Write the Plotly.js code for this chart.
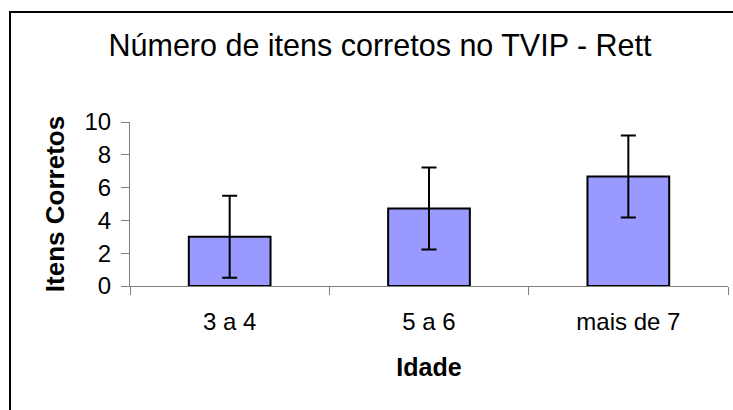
<!DOCTYPE html>
<html>
<head>
<meta charset="utf-8">
<script src="https://cdn.plot.ly/plotly-3.0.1.min.js"></script>
<style>
  html, body { margin: 0; padding: 0; background: #fff; }
  #chart { width: 733px; height: 410px; }
</style>
</head>
<body>
<div id="chart"></div>
<script>
// Data
const categories = ['3 a 4', '5 a 6', 'mais de 7'];
const means = [3.0, 4.72, 6.67];
const errors = [2.5, 2.5, 2.5];
const yTickValues = [0, 2, 4, 6, 8, 10];

const FONT = 'Liberation Sans, Arial, sans-serif';

// plot area: x 130..728, y 122..286 (px)
const L = 130, R = 5, T = 122, B = 124, W = 733, H = 410;
const pw = W - L - R, ph = H - T - B;
const px = (v) => (v - L) / pw;
const py = (v) => (H - B - v) / ph;

const trace = {
  type: 'bar',
  x: categories,
  y: means,
  marker: { color: '#9999FF', line: { color: '#000000', width: 2 } },
  error_y: { type: 'data', array: errors, visible: true, color: '#000000', thickness: 2, width: 7.5 },
  hoverinfo: 'x+y'
};

const layout = {
  width: W, height: H,
  margin: { l: L, r: R, t: T, b: B, pad: 0 },
  paper_bgcolor: '#ffffff',
  plot_bgcolor: '#ffffff',
  showlegend: false,
  bargap: 0.59,
  font: { family: FONT, color: '#000000' },
  title: {
    text: 'Número de itens corretos no TVIP - Rett',
    font: { family: FONT, size: 30.5, color: '#000000' },
    xref: 'container', x: 380 / W, xanchor: 'center',
    yref: 'container', y: 1 - 45.5 / H, yanchor: 'middle'
  },
  xaxis: {
    type: 'category',
    tickson: 'boundaries',
    ticks: 'outside', ticklen: 8, tickwidth: 1, tickcolor: '#808080',
    showline: true, linecolor: '#808080', linewidth: 1,
    showgrid: false, zeroline: false,
    tickfont: { family: FONT, size: 24, color: '#000000' },
    ticklabelstandoff: 14,
    title: { text: '<b>Idade</b>', font: { family: FONT, size: 25, color: '#000000' }, standoff: 24 },
    fixedrange: true
  },
  yaxis: {
    range: [0, 10],
    tickvals: yTickValues,
    ticktext: yTickValues.map(String),
    ticks: 'outside', ticklen: 8, tickwidth: 1, tickcolor: '#808080',
    showline: true, linecolor: '#808080', linewidth: 1,
    showgrid: false, zeroline: false,
    tickfont: { family: FONT, size: 24, color: '#000000' },
    ticklabelstandoff: 5,
    title: { text: '<b>Itens Corretos</b>', font: { family: FONT, size: 26, color: '#000000' }, standoff: 12 },
    fixedrange: true
  },
  shapes: [{
    type: 'path', xref: 'paper', yref: 'paper',
    path: 'M ' + px(10) + ',' + py(420) + ' L ' + px(10) + ',' + py(12) + ' L ' + px(745) + ',' + py(12),
    line: { color: '#000000', width: 2 }
  }]
};

Plotly.newPlot('chart', [trace], layout, { displayModeBar: false, staticPlot: true });
</script>
</body>
</html>
